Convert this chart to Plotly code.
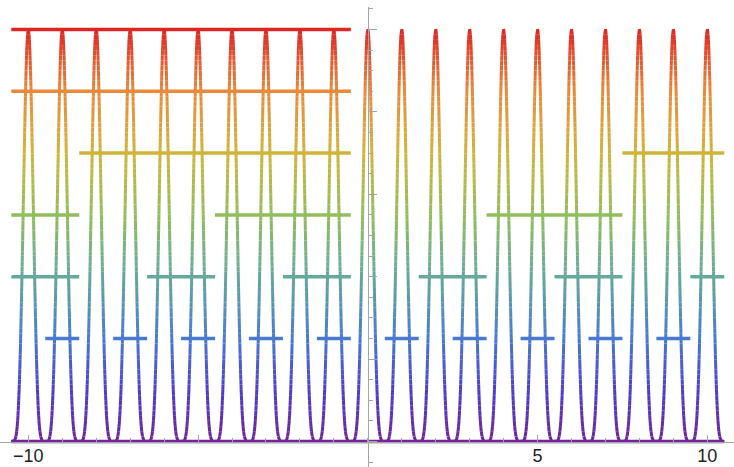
import numpy as np
import plotly.graph_objects as go
from plotly.colors import sample_colorscale

# ---- comb curve: one narrow bump on every integer of the interval ----
peak_x = list(range(-10, 11))
peak_height = 1.0
bump_power = 5.0
x_start, x_end = -10.5, 10.5

# ---- horizontal level bars (level -> list of [x0, x1] spans) ----
level_100 = [(-10.5, -0.5)]
level_085 = [(-10.5, -0.5)]
level_070 = [(-8.5, -0.5), (7.5, 10.5)]
level_055 = [(-10.5, -8.5), (-4.5, -0.5), (3.5, 7.5)]
level_040 = [(-10.5, -8.5), (-6.5, -4.5), (-2.5, -0.5),
             (1.5, 3.5), (5.5, 7.5), (9.5, 10.5)]
level_025 = [(-9.5, -8.5), (-7.5, -6.5), (-5.5, -4.5), (-3.5, -2.5),
             (-1.5, -0.5), (0.5, 1.5), (2.5, 3.5), (4.5, 5.5),
             (6.5, 7.5), (8.5, 9.5)]
level_000 = [(-10.5, 10.5)]
level_bars = [(1.0, level_100), (0.85, level_085), (0.7, level_070),
              (0.55, level_055), (0.4, level_040), (0.25, level_025),
              (0.0, level_000)]

# ---- x-axis labels ----
x_major = [-10, -5, 5, 10]
x_major_text = ["\u221210", "", "5", "10"]

# rainbow scale used for both the curve and the bars (by height)
rainbow = [
    [0.00, "rgb(112,38,150)"],
    [0.12, "rgb(78,60,205)"],
    [0.25, "rgb(72,122,210)"],
    [0.40, "rgb(100,168,158)"],
    [0.55, "rgb(145,190,92)"],
    [0.70, "rgb(208,180,58)"],
    [0.85, "rgb(233,138,58)"],
    [1.00, "rgb(220,38,36)"],
]


def comb(x):
    period = peak_x[1] - peak_x[0]
    return peak_height * np.abs(np.cos(np.pi * x / period)) ** bump_power


fig = go.Figure()

# curve: split into colour bands of height so the stroke follows the gradient
n_bins = 80
xs = np.linspace(x_start, x_end, 42001)
ys = comb(xs)
mid = 0.5 * (ys[:-1] + ys[1:]) / peak_height
bins = np.clip((mid * n_bins).astype(int), 0, n_bins - 1)
band_x = [[] for _ in range(n_bins)]
band_y = [[] for _ in range(n_bins)]
start = 0
for i in range(1, len(bins) + 1):
    if i == len(bins) or bins[i] != bins[start]:
        b = bins[start]
        band_x[b].extend(xs[start:i + 1].tolist() + [None])
        band_y[b].extend(ys[start:i + 1].tolist() + [None])
        start = i
band_colors = sample_colorscale(rainbow, [(b + 0.5) / n_bins for b in range(n_bins)])
for b in range(n_bins):
    if band_x[b]:
        fig.add_trace(go.Scatter(x=band_x[b], y=band_y[b], mode="lines",
                                 line=dict(color=band_colors[b], width=3),
                                 hoverinfo="skip", showlegend=False))

# level bars on top
for lvl, spans in level_bars:
    bx, by = [], []
    for a, b in spans:
        bx += [a, b, None]
        by += [lvl, lvl, None]
    fig.add_trace(go.Scatter(x=bx, y=by, mode="lines",
                             line=dict(color=sample_colorscale(rainbow, [lvl])[0], width=3.5),
                             hoverinfo="skip", showlegend=False))

W, H = 734, 467
px_per_x = 33.95
x0_px = 367.8
px_per_y = 412.0
y0_px = 441.5
y_top_px = 6.7

x_range = [-x0_px / px_per_x, (W - x0_px) / px_per_x]
y_range = [-(H - y0_px) / px_per_y, (y0_px - y_top_px) / px_per_y]

axis_grey = "#a6a6a6"
fig.update_layout(
    width=W, height=H,
    margin=dict(l=0, r=0, t=0, b=0, autoexpand=False),
    paper_bgcolor="white", plot_bgcolor="white",
    xaxis=dict(
        range=x_range, domain=[0, 1], anchor="free",
        position=(H - y0_px) / H, automargin=False,
        showgrid=False, zeroline=False,
        showline=True, linecolor=axis_grey, linewidth=1,
        tickmode="array", tickvals=x_major, ticktext=x_major_text,
        ticks="inside", ticklen=7, tickcolor=axis_grey, tickwidth=1,
        minor=dict(dtick=1, tick0=0, ticks="inside", ticklen=4,
                   tickcolor=axis_grey, tickwidth=1),
        tickfont=dict(family="Liberation Sans, Arial, sans-serif", size=18, color="#222"),
        ticklabelstandoff=-2,
    ),
    yaxis=dict(
        range=y_range, domain=[0, 1 - y_top_px / H], anchor="free",
        position=x0_px / W, automargin=False,
        showgrid=False, zeroline=False,
        showline=True, linecolor=axis_grey, linewidth=1,
        tickmode="array", tickvals=[0, 0.2, 0.4, 0.6, 0.8, 1.0],
        showticklabels=False,
        ticks="inside", ticklen=8, tickcolor=axis_grey, tickwidth=1,
        minor=dict(dtick=0.05, tick0=0, ticks="inside", ticklen=4,
                   tickcolor=axis_grey, tickwidth=1),
    ),
)

fig.write_html("out.html")
